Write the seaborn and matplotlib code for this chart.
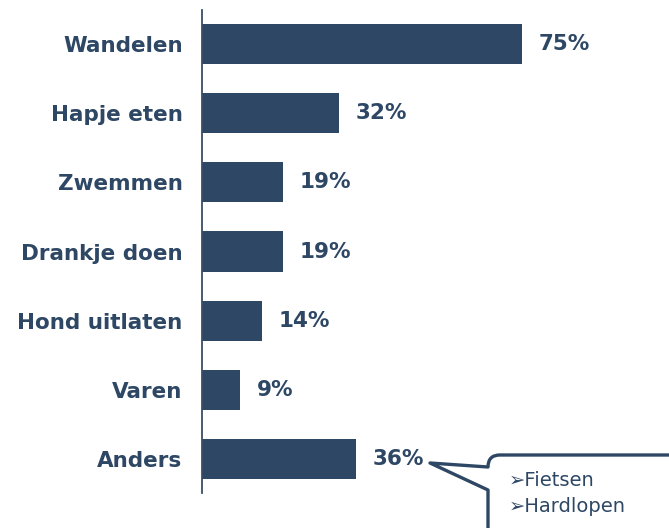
import matplotlib
matplotlib.use("Agg")
import matplotlib.pyplot as plt
from matplotlib.path import Path
from matplotlib.patches import PathPatch
import seaborn as sns
import pandas as pd

categories = ["Wandelen", "Hapje eten", "Zwemmen", "Drankje doen", "Hond uitlaten", "Varen", "Anders"]
values = [75, 32, 19, 19, 14, 9, 36]
value_labels = ["75%", "32%", "19%", "19%", "14%", "9%", "36%"]
callout_items = ["\u27a2Fietsen", "\u27a2Hardlopen"]

NAVY = "#2D4764"

sns.set_theme(style="white")
plt.rcParams['font.family'] = ['DejaVu Sans']

W, H = 669, 528
fig = plt.figure(figsize=(W / 100, H / 100), dpi=100)
ax = fig.add_axes([202 / W, (H - 493) / H, (W - 202) / W, (493 - 10) / H])

df = pd.DataFrame({"cat": categories, "val": values})
sns.barplot(data=df, x="val", y="cat", color=NAVY, saturation=1, width=0.58,
            orient="h", ax=ax, linewidth=0)

ax.bar_label(ax.containers[0], labels=value_labels, padding=12,
             fontsize=15.5, fontweight="bold", color=NAVY)

ax.set_xlim(0, (W - 202) / (320 / 75))
ax.set_ylim(6.49, -0.49)
ax.set_xlabel("")
ax.set_ylabel("")
ax.set_xticks([])
ax.tick_params(axis="y", length=0, pad=14)
for lab in ax.get_yticklabels():
    lab.set_fontsize(15.5)
    lab.set_fontweight("bold")
    lab.set_color(NAVY)
for s in ["top", "right", "bottom"]:
    ax.spines[s].set_visible(False)
ax.spines["left"].set_color("#3A4E66")
ax.spines["left"].set_linewidth(1.3)

# callout bubble (figure-pixel coordinates, y from top)
def fp(x, y):
    return (x / W, 1 - y / H)

r = 12
verts = [fp(700, 455), fp(488 + r, 455), fp(488, 455), fp(488, 455 + r),
         fp(430, 463), fp(488, 490), fp(488, 560), fp(700, 560), fp(700, 455)]
codes = [Path.MOVETO, Path.LINETO, Path.CURVE3, Path.CURVE3,
         Path.LINETO, Path.LINETO, Path.LINETO, Path.LINETO, Path.CLOSEPOLY]
bubble = PathPatch(Path(verts, codes), facecolor="white", edgecolor=NAVY,
                   linewidth=2.4, transform=fig.transFigure, joinstyle="round",
                   clip_on=False)
fig.add_artist(bubble)

for i, item in enumerate(callout_items):
    x, y = fp(509, 481 + i * 25)
    fig.text(x, y, item, fontsize=14, color=NAVY, va="center", ha="left")

fig.savefig("out.png", dpi=100)
